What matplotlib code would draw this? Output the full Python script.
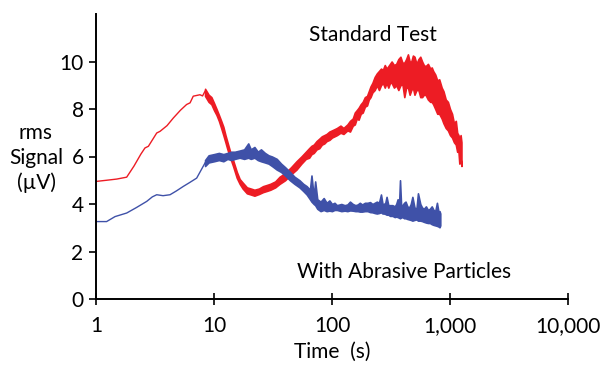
import matplotlib
matplotlib.use("Agg")
import matplotlib.pyplot as plt
from matplotlib.ticker import FixedLocator, FixedFormatter, NullLocator

plt.rcParams['font.family'] = ['Lato', 'DejaVu Sans']

RED = '#ED1C24'
BLUE = '#3F51A8'

# Standard test: thin early part
red_thin_t = [1, 1.23, 1.5, 1.82, 2.1, 2.4, 2.6, 2.78, 3.27, 3.49, 4.0, 4.52, 5.2, 5.86, 6.27, 6.67, 7.6, 8.0, 8.4]
red_thin_y = [4.95, 5.0, 5.05, 5.13, 5.6, 6.1, 6.36, 6.43, 6.99, 7.06, 7.3, 7.62, 7.95, 8.19, 8.26, 8.54, 8.6, 8.55, 8.75]
# Standard test: thick noisy band
red_t = [8.4, 9.0, 9.5, 10, 10.5, 11, 11.5, 12, 12.5, 13, 13.7, 14.5, 15.6, 16.5, 17.5, 19, 20.5, 22, 24, 26,
         28, 30, 33, 36, 40, 45, 50, 55, 60, 64, 67, 70, 74, 78, 82, 86, 90, 95, 100, 105,
         110, 118, 125, 135, 142, 150, 156, 162, 168, 175, 182, 190, 198, 205, 212, 220, 230, 240, 250, 260,
         270, 280, 290, 300, 310, 320, 335, 350, 365, 380, 395, 410, 425, 440, 455, 470, 485, 500, 520, 540,
         560, 580, 600, 620, 650, 680, 700, 720, 750, 780, 810, 850, 880, 920, 960, 1000, 1040, 1080, 1120, 1150,
         1180, 1200, 1230, 1250]
red_lo = [8.55, 8.3, 8.2, 7.95, 7.75, 7.5, 7.2, 6.9, 6.6, 6.3, 5.95, 5.6, 5.1, 4.85, 4.65, 4.45, 4.4, 4.35, 4.42, 4.5,
          4.55, 4.6, 4.7, 4.85, 5.0, 5.25, 5.45, 5.7, 5.9, 5.95, 6.1, 6.15, 6.3, 6.35, 6.5, 6.55, 6.65, 6.7, 6.8, 6.85,
          6.9, 7.0, 6.95, 7.1, 7.05, 7.3, 7.35, 7.6, 7.55, 7.8, 7.85, 8.1, 8.15, 8.4, 8.5, 8.7, 8.8, 9.0, 8.8, 9.0,
          9.1, 8.9, 9.1, 8.9, 9.1, 9.1, 8.9, 9.0, 8.8, 9.0, 9.05, 8.5, 8.9, 8.9, 8.6, 8.8, 8.9, 8.6, 8.8, 8.8,
          8.5, 8.5, 8.6, 8.6, 8.4, 8.3, 8.3, 8.2, 8.0, 7.8, 7.8, 7.6, 7.4, 7.2, 7.1, 6.9, 6.8, 6.6, 6.5, 6.2,
          6.2, 5.7, 5.9, 5.6]
red_hi = [8.85, 8.6, 8.5, 8.25, 8.0, 7.75, 7.5, 7.25, 6.9, 6.6, 6.2, 5.85, 5.35, 5.05, 4.9, 4.7, 4.65, 4.6, 4.65, 4.75,
          4.8, 4.85, 4.95, 5.15, 5.3, 5.55, 5.8, 6.0, 6.2, 6.35, 6.45, 6.5, 6.65, 6.75, 6.85, 6.9, 6.95, 7.05, 7.1, 7.15,
          7.2, 7.3, 7.2, 7.35, 7.5, 7.6, 7.85, 7.95, 8.05, 8.2, 8.3, 8.5, 8.55, 8.75, 8.95, 9.1, 9.35, 9.5, 9.6, 9.7,
          9.65, 9.85, 9.7, 9.8, 9.9, 10.0, 9.85, 9.9, 10.1, 10.2, 9.95, 9.95, 10.1, 10.3, 10.0, 10.0, 10.25, 10.2, 9.9, 10.1,
          10.2, 10.0, 9.85, 9.8, 9.9, 9.7, 9.75, 9.6, 9.45, 9.2, 9.25, 8.9, 8.75, 8.4, 8.3, 8.0, 7.8, 7.4, 7.5, 7.0,
          6.9, 6.7, 6.9, 6.6]

# With abrasive particles: thin early part
blue_thin_t = [1, 1.23, 1.45, 1.82, 2.2, 2.69, 3.0, 3.27, 3.7, 4.24, 4.8, 5.49, 6.2, 7.13, 8.4]
blue_thin_y = [3.26, 3.26, 3.47, 3.62, 3.85, 4.11, 4.3, 4.39, 4.35, 4.39, 4.55, 4.74, 4.9, 5.09, 5.73]
# With abrasive particles: thick noisy band
blue_t = [8.4, 9.0, 10, 11, 12, 13, 14, 15, 16.5, 18, 19.5, 20.5, 22, 23.5, 25, 27, 29, 31, 34, 37,
          40, 44, 48, 53, 57, 61, 65, 67, 70, 72, 75, 80, 85, 90, 95, 100, 105, 110, 120, 128,
          135, 142, 150, 158, 165, 172, 180, 190, 200, 210, 220, 230, 240, 250, 260, 268, 275, 283, 290, 300,
          310, 325, 340, 350, 360, 370, 377, 385, 395, 408, 420, 435, 450, 465, 480, 500, 520, 535, 560, 580,
          600, 625, 650, 675, 700, 725, 750, 775, 800, 815, 827]
blue_lo = [5.6, 5.75, 5.8, 5.85, 5.8, 5.9, 5.85, 5.9, 5.95, 5.9, 5.95, 5.9, 5.95, 5.85, 5.8, 5.75, 5.7, 5.6, 5.45, 5.35,
           5.2, 5.0, 4.85, 4.7, 4.55, 4.4, 4.2, 4.1, 4.0, 3.95, 3.8, 3.7, 3.75, 3.7, 3.72, 3.7, 3.75, 3.75, 3.7, 3.72,
           3.7, 3.73, 3.72, 3.7, 3.7, 3.68, 3.68, 3.7, 3.7, 3.66, 3.65, 3.62, 3.6, 3.62, 3.65, 3.6, 3.6, 3.58, 3.55, 3.55,
           3.5, 3.5, 3.45, 3.47, 3.45, 3.42, 3.4, 3.43, 3.45, 3.4, 3.4, 3.37, 3.35, 3.33, 3.3, 3.33, 3.35, 3.3, 3.3, 3.28,
           3.25, 3.22, 3.2, 3.2, 3.15, 3.12, 3.1, 3.08, 3.05, 3.02, 3.1]
blue_hi = [5.85, 6.05, 6.1, 6.15, 6.1, 6.15, 6.2, 6.2, 6.25, 6.3, 6.55, 6.3, 6.4, 6.2, 6.3, 6.15, 6.05, 6.0, 5.9, 5.7,
           5.55, 5.35, 5.15, 5.0, 4.85, 4.75, 4.6, 5.2, 4.3, 4.95, 4.2, 4.1, 4.25, 4.05, 4.15, 4.0, 4.05, 3.95, 4.0, 3.95,
           3.98, 4.1, 4.0, 3.95, 3.98, 4.05, 3.98, 4.05, 4.05, 4.08, 4.0, 4.05, 4.1, 4.05, 4.4, 4.0, 4.0, 4.05, 4.3, 3.95,
           3.95, 3.95, 3.9, 4.0, 4.2, 3.95, 5.0, 3.95, 3.95, 4.05, 4.1, 3.9, 3.85, 4.0, 4.3, 3.85, 3.8, 4.45, 4.0, 3.85,
           3.8, 3.9, 3.75, 3.8, 3.9, 3.75, 3.7, 4.05, 3.65, 3.7, 3.6]

x_ticks = [1, 10, 100, 1000, 10000]
x_labels = ['1', '10', '100', '1,000', '10,000']
y_ticks = [0, 2, 4, 6, 8, 10]

fig = plt.figure(figsize=(6.1, 3.65), dpi=100)
ax = fig.add_axes([96 / 610, 1 - 299 / 365, (568 - 96) / 610, (299 - 14) / 365])

ax.plot(red_thin_t, red_thin_y, color=RED, lw=1.0)
ax.fill_between(red_t, red_lo, red_hi, color=RED, lw=1.2, edgecolor=RED)
ax.plot(blue_thin_t, blue_thin_y, color=BLUE, lw=1.0)
ax.fill_between(blue_t, blue_lo, blue_hi, color=BLUE, lw=1.2, edgecolor=BLUE)

ax.set_xscale('log')
ax.set_xlim(1, 10000)
ax.set_ylim(0, 12)
ax.xaxis.set_major_locator(FixedLocator(x_ticks))
ax.xaxis.set_major_formatter(FixedFormatter(x_labels))
ax.xaxis.set_minor_locator(NullLocator())
ax.set_yticks(y_ticks)
ax.set_yticklabels([str(v) for v in y_ticks])

for s in ['top', 'right']:
    ax.spines[s].set_visible(False)
for s in ['left', 'bottom']:
    ax.spines[s].set_linewidth(1.4)
    ax.spines[s].set_color('black')
ax.spines['left'].set_bounds(0, 12)

ax.tick_params(axis='x', direction='inout', length=9, width=1.2, labelsize=15, pad=8)
ax.tick_params(axis='y', direction='out', length=5, width=1.2, labelsize=15, pad=4)

ax.set_xlabel('Time  (s)', fontsize=15, labelpad=4)
fig.text(36 / 610, 1 - 158 / 365, 'rms\nSignal\n(\u00b5V)', fontsize=15, ha='center', va='center',
         linespacing=1.3)

fig.text(373 / 610, 1 - 35 / 365, 'Standard Test', fontsize=15, ha='center', va='center')
fig.text(404 / 610, 1 - 272 / 365, 'With Abrasive Particles', fontsize=15, ha='center', va='center')

fig.savefig('out.png', dpi=100)
